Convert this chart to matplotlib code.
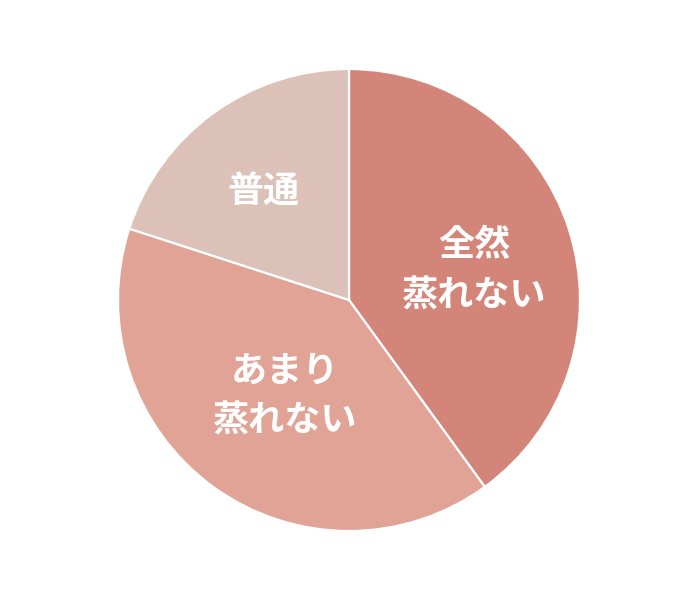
import matplotlib.pyplot as plt
import numpy as np

plt.rcParams['font.family'] = ['Noto Sans CJK JP', 'DejaVu Sans']

labels = ['全然\n蒸れない', 'あまり\n蒸れない', '普通']
shares = [40, 40, 20]
colors = ['#D48579', '#E0A396', '#DCC1B9']

# where each label sits inside its slice (fraction of radius, angle nudge in degrees)
label_dist = [0.557, 0.498, 0.596]
label_nudge = [-5, 2.3, 2.5]

W, H = 695, 599
cx, cy, r = 349, 300, 231

fig = plt.figure(figsize=(W / 100, H / 100), dpi=100)
ax = fig.add_axes([(cx - r) / W, (H - cy - r) / H, 2 * r / W, 2 * r / H])

wedges, texts = ax.pie(shares, labels=labels, colors=colors, startangle=90,
                       counterclock=False,
                       wedgeprops=dict(edgecolor='white', linewidth=1.6),
                       textprops=dict(color='white', fontsize=26, fontweight='bold',
                                      ha='center', va='center', linespacing=1.45))

for w, t, d, n in zip(wedges, texts, label_dist, label_nudge):
    ang = np.radians((w.theta1 + w.theta2) / 2 + n)
    t.set_position((d * np.cos(ang), d * np.sin(ang)))
    t.set_ha('center')
    t.set_va('center')

ax.set_xlim(-1, 1)
ax.set_ylim(-1, 1)
ax.set_aspect('equal')
ax.axis('off')

fig.savefig('out.png', dpi=100)
